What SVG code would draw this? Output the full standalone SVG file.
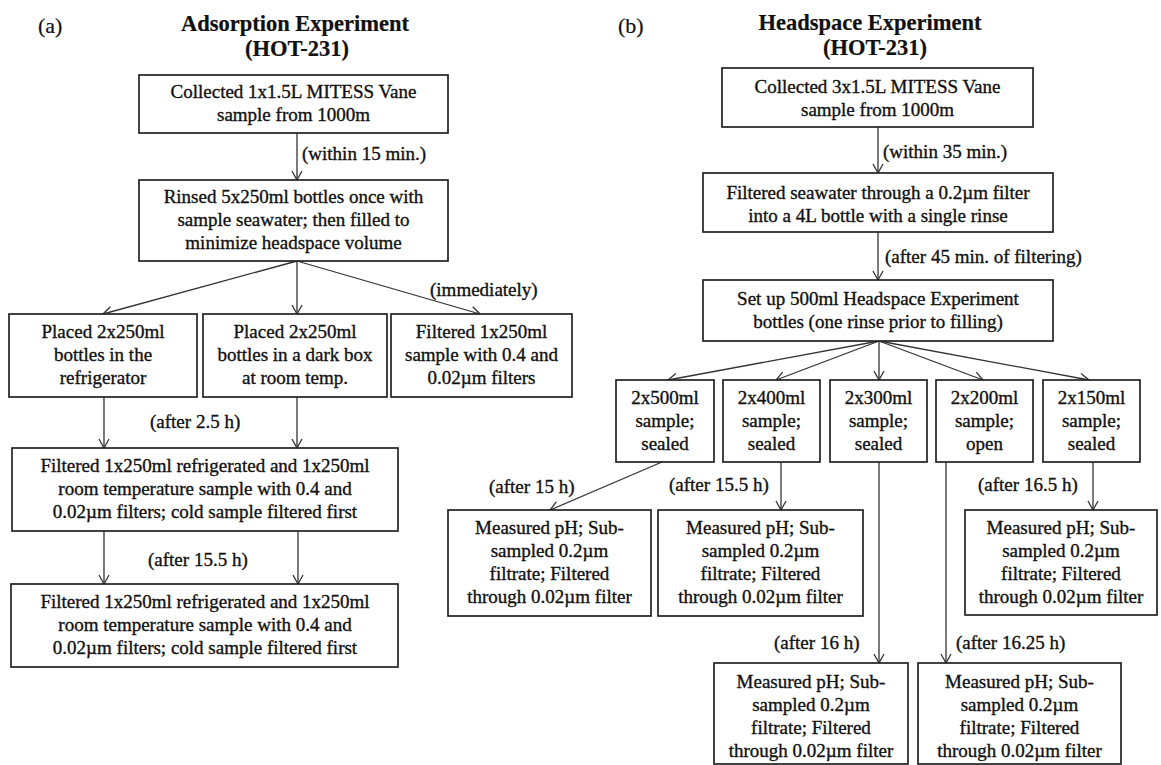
<svg xmlns="http://www.w3.org/2000/svg" width="1161" height="765" viewBox="0 0 1161 765">
<style>
  text { font-family: "Liberation Serif", "Times New Roman", serif; font-size: 19px; fill: #111; stroke: #111; stroke-width: 0.35; }
  .t { text-anchor: middle; }
  .title { font-size: 22.5px; font-weight: bold; text-anchor: middle; stroke-width: 0.2; }
  .panel { font-size: 22px; stroke-width: 0.2; }
  .box { fill: #fff; stroke: #222; stroke-width: 1.7; }
  .c { fill: none; stroke: #333; stroke-width: 1.3; marker-end: url(#ah); }
</style>
<defs>
  <marker id="ah" viewBox="0 0 12 12" refX="11" refY="6" markerWidth="12" markerHeight="12" markerUnits="userSpaceOnUse" orient="auto">
    <path d="M2,1 L11,6 L2,11" fill="none" stroke="#333" stroke-width="1.3"/>
  </marker>
</defs>
<rect width="1161" height="765" fill="#fff"/>

<!-- Titles -->
<g id="titles">
  <text class="panel" x="38" y="33">(a)</text>
  <text class="title" x="295" y="31">Adsorption Experiment</text>
  <text class="title" x="297" y="56">(HOT-231)</text>
  <text class="panel" x="618" y="33">(b)</text>
  <text class="title" x="870" y="30">Headspace Experiment</text>
  <text class="title" x="875" y="55">(HOT-231)</text>
</g>

<!-- Connectors -->
<g id="connectors">
  <line class="c" x1="297" y1="133" x2="297" y2="180"/>
  <line class="c" x1="297" y1="261" x2="103" y2="314"/>
  <line class="c" x1="297" y1="261" x2="297" y2="314"/>
  <line class="c" x1="297" y1="261" x2="480" y2="314"/>
  <line class="c" x1="104" y1="397" x2="104" y2="448"/>
  <line class="c" x1="297" y1="397" x2="297" y2="448"/>
  <line class="c" x1="104" y1="531" x2="104" y2="584"/>
  <line class="c" x1="298" y1="531" x2="298" y2="584"/>

  <line class="c" x1="878" y1="127" x2="878" y2="173"/>
  <line class="c" x1="878" y1="232" x2="878" y2="280"/>
  <line class="c" x1="879" y1="341" x2="668" y2="380"/>
  <line class="c" x1="879" y1="341" x2="776" y2="380"/>
  <line class="c" x1="879" y1="341" x2="879" y2="380"/>
  <line class="c" x1="879" y1="341" x2="983" y2="380"/>
  <line class="c" x1="879" y1="341" x2="1089" y2="380"/>
  <line class="c" x1="662" y1="462" x2="550" y2="510"/>
  <line class="c" x1="781" y1="462" x2="781" y2="510"/>
  <line class="c" x1="1093" y1="462" x2="1093" y2="510"/>
  <line class="c" x1="879" y1="462" x2="879" y2="663"/>
  <line class="c" x1="946" y1="462" x2="946" y2="663"/>

  <text x="302" y="160">(within 15 min.)</text>
  <text x="430" y="296">(immediately)</text>
  <text x="150" y="428">(after 2.5 h)</text>
  <text x="148" y="566">(after 15.5 h)</text>
  <text x="883" y="158">(within 35 min.)</text>
  <text x="885" y="263">(after 45 min. of filtering)</text>
  <text x="489" y="493">(after 15 h)</text>
  <text x="669" y="491">(after 15.5 h)</text>
  <text x="978" y="491">(after 16.5 h)</text>
  <text x="774" y="649">(after 16 h)</text>
  <text x="956" y="649">(after 16.25 h)</text>
</g>

<!-- Left panel nodes -->
<g id="a-collect">
  <rect class="box" x="139" y="75" width="309" height="58"/>
  <text class="t" x="293.5" y="98">Collected 1x1.5L MITESS Vane</text>
  <text class="t" x="293.5" y="121">sample from 1000m</text>
</g>
<g id="a-rinse">
  <rect class="box" x="139" y="180" width="309" height="81"/>
  <text class="t" x="293.5" y="203">Rinsed 5x250ml bottles once with</text>
  <text class="t" x="293.5" y="226">sample seawater; then filled to</text>
  <text class="t" x="293.5" y="249">minimize headspace volume</text>
</g>
<g id="a-fridge">
  <rect class="box" x="9" y="314" width="188" height="83"/>
  <text class="t" x="103" y="338">Placed 2x250ml</text>
  <text class="t" x="103" y="361">bottles in the</text>
  <text class="t" x="103" y="384">refrigerator</text>
</g>
<g id="a-dark">
  <rect class="box" x="203" y="314" width="184" height="83"/>
  <text class="t" x="295" y="338">Placed 2x250ml</text>
  <text class="t" x="295" y="361">bottles in a dark box</text>
  <text class="t" x="295" y="384">at room temp.</text>
</g>
<g id="a-filtered">
  <rect class="box" x="391" y="314" width="181" height="83"/>
  <text class="t" x="481.5" y="338">Filtered 1x250ml</text>
  <text class="t" x="481.5" y="361">sample with 0.4 and</text>
  <text class="t" x="481.5" y="384">0.02µm filters</text>
</g>
<g id="a-filter1">
  <rect class="box" x="12" y="448" width="386" height="83"/>
  <text class="t" x="205" y="472">Filtered 1x250ml refrigerated and 1x250ml</text>
  <text class="t" x="205" y="495">room temperature sample with 0.4 and</text>
  <text class="t" x="205" y="518">0.02µm filters; cold sample filtered first</text>
</g>
<g id="a-filter2">
  <rect class="box" x="11" y="584" width="387" height="83"/>
  <text class="t" x="205" y="608">Filtered 1x250ml refrigerated and 1x250ml</text>
  <text class="t" x="205" y="631">room temperature sample with 0.4 and</text>
  <text class="t" x="205" y="654">0.02µm filters; cold sample filtered first</text>
</g>

<!-- Right panel nodes -->
<g id="b-collect">
  <rect class="box" x="722" y="68" width="311" height="59"/>
  <text class="t" x="877.5" y="93">Collected 3x1.5L MITESS Vane</text>
  <text class="t" x="877.5" y="116">sample from 1000m</text>
</g>
<g id="b-filter">
  <rect class="box" x="703" y="173" width="350" height="59"/>
  <text class="t" x="878" y="199">Filtered seawater through a 0.2µm filter</text>
  <text class="t" x="878" y="222">into a 4L bottle with a single rinse</text>
</g>
<g id="b-setup">
  <rect class="box" x="703" y="280" width="350" height="61"/>
  <text class="t" x="878" y="305">Set up 500ml Headspace Experiment</text>
  <text class="t" x="878" y="328">bottles (one rinse prior to filling)</text>
</g>
<g id="b-500">
  <rect class="box" x="616" y="380" width="98" height="82"/>
  <text class="t" x="665" y="404">2x500ml</text>
  <text class="t" x="665" y="427">sample;</text>
  <text class="t" x="665" y="450">sealed</text>
</g>
<g id="b-400">
  <rect class="box" x="723" y="380" width="97" height="82"/>
  <text class="t" x="771.5" y="404">2x400ml</text>
  <text class="t" x="771.5" y="427">sample;</text>
  <text class="t" x="771.5" y="450">sealed</text>
</g>
<g id="b-300">
  <rect class="box" x="830" y="380" width="97" height="82"/>
  <text class="t" x="878.5" y="404">2x300ml</text>
  <text class="t" x="878.5" y="427">sample;</text>
  <text class="t" x="878.5" y="450">sealed</text>
</g>
<g id="b-200">
  <rect class="box" x="936" y="380" width="97" height="82"/>
  <text class="t" x="984.5" y="404">2x200ml</text>
  <text class="t" x="984.5" y="427">sample;</text>
  <text class="t" x="984.5" y="450">open</text>
</g>
<g id="b-150">
  <rect class="box" x="1043" y="380" width="97" height="82"/>
  <text class="t" x="1091.5" y="404">2x150ml</text>
  <text class="t" x="1091.5" y="427">sample;</text>
  <text class="t" x="1091.5" y="450">sealed</text>
</g>
<g id="b-m500">
  <rect class="box" x="448" y="510" width="203" height="106"/>
  <text class="t" x="549.5" y="534">Measured pH; Sub-</text>
  <text class="t" x="549.5" y="557">sampled 0.2µm</text>
  <text class="t" x="549.5" y="580">filtrate; Filtered</text>
  <text class="t" x="549.5" y="603">through 0.02µm filter</text>
</g>
<g id="b-m400">
  <rect class="box" x="658" y="510" width="205" height="106"/>
  <text class="t" x="760.5" y="534">Measured pH; Sub-</text>
  <text class="t" x="760.5" y="557">sampled 0.2µm</text>
  <text class="t" x="760.5" y="580">filtrate; Filtered</text>
  <text class="t" x="760.5" y="603">through 0.02µm filter</text>
</g>
<g id="b-m150">
  <rect class="box" x="965" y="510" width="192" height="105"/>
  <text class="t" x="1061" y="534">Measured pH; Sub-</text>
  <text class="t" x="1061" y="557">sampled 0.2µm</text>
  <text class="t" x="1061" y="580">filtrate; Filtered</text>
  <text class="t" x="1061" y="603">through 0.02µm filter</text>
</g>
<g id="b-m300">
  <rect class="box" x="714" y="663" width="194" height="101"/>
  <text class="t" x="811" y="688">Measured pH; Sub-</text>
  <text class="t" x="811" y="711">sampled 0.2µm</text>
  <text class="t" x="811" y="734">filtrate; Filtered</text>
  <text class="t" x="811" y="757">through 0.02µm filter</text>
</g>
<g id="b-m200">
  <rect class="box" x="918" y="663" width="203" height="101"/>
  <text class="t" x="1019.5" y="688">Measured pH; Sub-</text>
  <text class="t" x="1019.5" y="711">sampled 0.2µm</text>
  <text class="t" x="1019.5" y="734">filtrate; Filtered</text>
  <text class="t" x="1019.5" y="757">through 0.02µm filter</text>
</g>
</svg>
